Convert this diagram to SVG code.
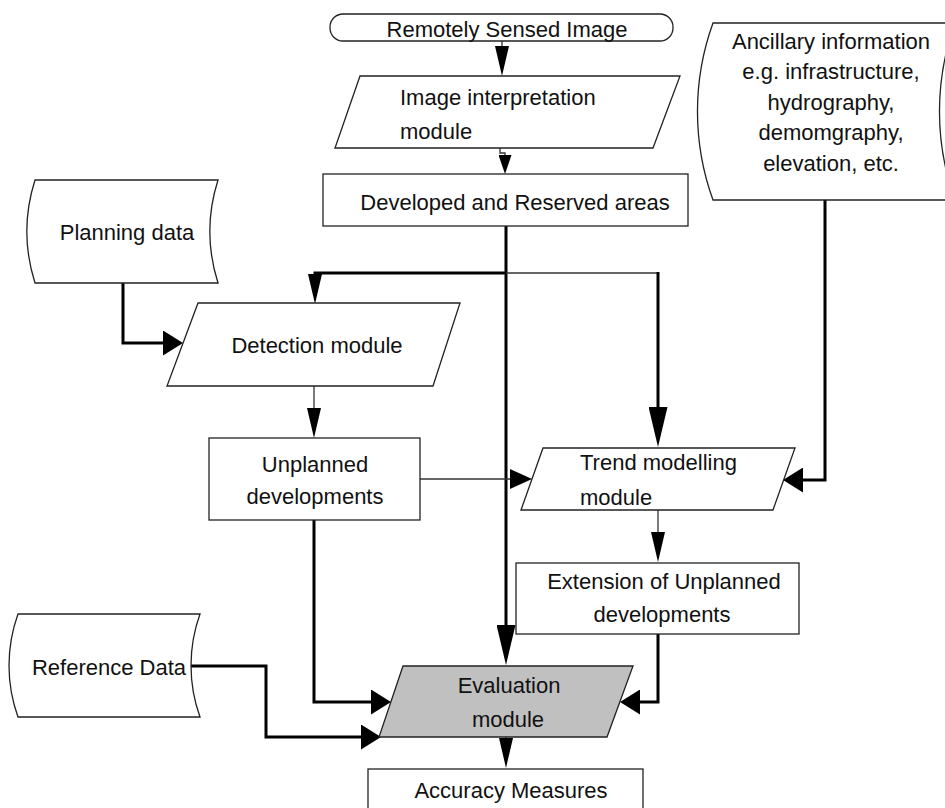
<svg xmlns="http://www.w3.org/2000/svg" width="945" height="808" viewBox="0 0 945 808">
<style>
  .shape { fill: #ffffff; stroke: #222222; stroke-width: 1.3; }
  .grey { fill: #c0c0c0; }
  .lbl { font-family: "Liberation Sans", Arial, sans-serif; font-size: 22px; fill: #111111; }
  .mid { text-anchor: middle; }
  .thin { fill: none; stroke: #333333; stroke-width: 1.3; }
  .thick { fill: none; stroke: #000000; stroke-width: 3; }
</style>
<defs>
  <marker id="ah" viewBox="0 0 30 14" refX="0" refY="7" markerWidth="30" markerHeight="14" markerUnits="userSpaceOnUse" orient="auto"><path d="M0,0 L30,7 L0,14 Z" fill="#000"/></marker>
  <marker id="ahL" viewBox="0 0 40 19" refX="0" refY="9.5" markerWidth="40" markerHeight="19" markerUnits="userSpaceOnUse" orient="auto"><path d="M0,0 L40,9.5 L0,19 Z" fill="#000"/></marker>
  <marker id="ahW" viewBox="0 0 20 25" refX="0" refY="12.5" markerWidth="20" markerHeight="25" markerUnits="userSpaceOnUse" orient="auto"><path d="M0,0 L20,12.5 L0,25 Z" fill="#000"/></marker>
  <marker id="ahT" viewBox="0 0 22 20" refX="0" refY="10" markerWidth="22" markerHeight="20" markerUnits="userSpaceOnUse" orient="auto"><path d="M0,0 L22,10 L0,20 Z" fill="#000"/></marker>
  <marker id="ahS" viewBox="0 0 19 13" refX="0" refY="6.5" markerWidth="19" markerHeight="13" markerUnits="userSpaceOnUse" orient="auto"><path d="M0,0 L19,6.5 L0,13 Z" fill="#000"/></marker>
</defs>

<g id="connectors">
  <path class="thin" d="M502,41 V46" marker-end="url(#ah)"/>
  <path class="thin" d="M500,148 V153 H505 V155" marker-end="url(#ahS)"/>
  <path class="thick" d="M506,226 V625" marker-end="url(#ahL)"/>
  <path class="thick" d="M506,273 H315 V274" marker-end="url(#ah)"/>
  <path class="thin" d="M506,273 H658"/>
  <path class="thick" d="M658,272 V407" marker-end="url(#ahL)"/>
  <path class="thick" d="M123,283 V343 H163" marker-end="url(#ahW)"/>
  <path class="thin" d="M314,386 V408" marker-end="url(#ah)"/>
  <path class="thin" d="M420,479 H510" marker-end="url(#ahT)"/>
  <path class="thick" d="M825,200 V480 H803" marker-end="url(#ahW)"/>
  <path class="thin" d="M658,510 V532" marker-end="url(#ah)"/>
  <path class="thick" d="M658,634 V702 H640" marker-end="url(#ahW)"/>
  <path class="thick" d="M314,520 V702 H371" marker-end="url(#ahW)"/>
  <path class="thick" d="M191,666 H266 V737 H361" marker-end="url(#ahW)"/>
  <path class="thin" d="M506,737 V738" marker-end="url(#ah)"/>
</g>

<g id="remotely-sensed-image">
  <rect class="shape" x="330" y="14" width="343" height="27" rx="13" ry="13"/>
  <text class="lbl mid" x="507" y="37">Remotely Sensed Image</text>
</g>

<g id="image-interpretation">
  <polygon class="shape" points="360,76 680,76 653,148 335,148"/>
  <text class="lbl" x="400" y="105">Image interpretation</text>
  <text class="lbl" x="400" y="139">module</text>
</g>

<g id="developed-reserved">
  <rect class="shape" x="323" y="174" width="365" height="52"/>
  <text class="lbl mid" x="515" y="210">Developed and Reserved areas</text>
</g>

<g id="ancillary">
  <path class="shape" d="M713,23 H955 A260,260 0 0 0 955,200 H713 A260,260 0 0 1 713,23 Z"/>
  <text class="lbl mid" x="831" y="49">Ancillary information</text>
  <text class="lbl mid" x="831" y="79">e.g. infrastructure,</text>
  <text class="lbl mid" x="831" y="110">hydrography,</text>
  <text class="lbl mid" x="831" y="140">demomgraphy,</text>
  <text class="lbl mid" x="831" y="171">elevation, etc.</text>
</g>

<g id="planning-data">
  <path class="shape" d="M35,180 H218 A170,170 0 0 0 218,283 H35 A170,170 0 0 1 35,180 Z"/>
  <text class="lbl mid" x="127" y="240">Planning data</text>
</g>

<g id="detection-module">
  <polygon class="shape" points="198,303 460,303 433,386 167,386"/>
  <text class="lbl mid" x="317" y="353">Detection module</text>
</g>

<g id="unplanned-developments">
  <rect class="shape" x="209" y="438" width="211" height="82"/>
  <text class="lbl mid" x="315" y="472">Unplanned</text>
  <text class="lbl mid" x="315" y="504">developments</text>
</g>

<g id="trend-modelling">
  <polygon class="shape" points="543,448 795,448 773,510 521,510"/>
  <text class="lbl" x="580" y="470">Trend modelling</text>
  <text class="lbl" x="580" y="505">module</text>
</g>

<g id="extension">
  <rect class="shape" x="516" y="563" width="283" height="71"/>
  <text class="lbl mid" x="664" y="589">Extension of Unplanned</text>
  <text class="lbl mid" x="662" y="622">developments</text>
</g>

<g id="reference-data">
  <path class="shape" d="M18,614 H200 A152,152 0 0 0 200,717 H18 A152,152 0 0 1 18,614 Z"/>
  <text class="lbl mid" x="109" y="675">Reference Data</text>
</g>

<g id="evaluation-module">
  <polygon class="shape grey" points="403,666 633,666 607,737 379,737"/>
  <text class="lbl mid" x="509" y="693">Evaluation</text>
  <text class="lbl mid" x="508" y="727">module</text>
</g>

<g id="accuracy-measures">
  <rect class="shape" x="368" y="769" width="275" height="50"/>
  <text class="lbl mid" x="511" y="798">Accuracy Measures</text>
</g>
</svg>
